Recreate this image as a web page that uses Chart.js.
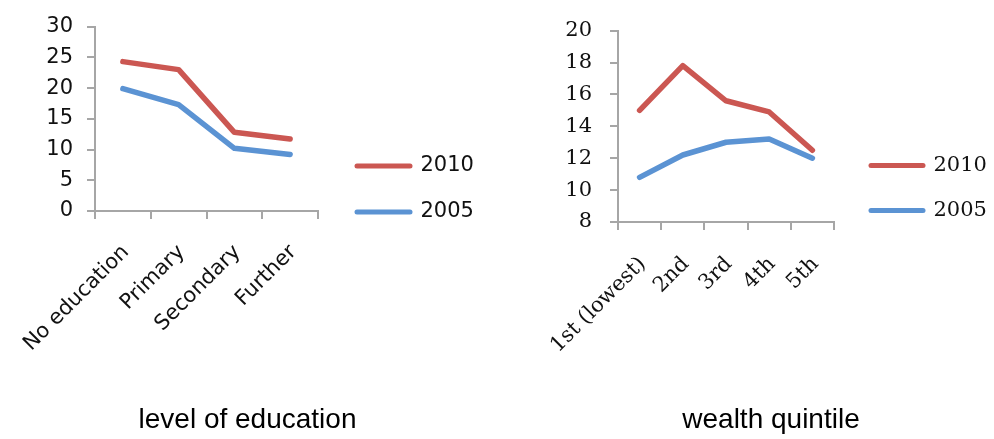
<!DOCTYPE html>
<html><head><meta charset="utf-8">
<script src="https://cdn.jsdelivr.net/npm/chart.js@4.4.0/dist/chart.umd.min.js"></script>
<style>
html,body{margin:0;padding:0;background:#fff;overflow:hidden;width:994px;height:439px;}
canvas{position:absolute;top:0;}
#c1{left:0;} #c2{left:540px;}
</style></head><body>
<canvas id="c1" width="495" height="439" style="width:495px;height:439px"></canvas>
<canvas id="c2" width="462" height="439" style="width:462px;height:439px"></canvas>
<script>
// ---- data ----
const eduLabels = ['No education', 'Primary', 'Secondary', 'Further'];
const edu2010 = [24.3, 23.0, 12.8, 11.7];
const edu2005 = [19.9, 17.3, 10.2, 9.2];
const eduTicks = [0, 5, 10, 15, 20, 25, 30];

const wealthLabels = ['1st (lowest)', '2nd', '3rd', '4th', '5th'];
const wealth2010 = [15.0, 17.8, 15.6, 14.9, 12.5];
const wealth2005 = [10.8, 12.2, 13.0, 13.2, 12.0];
const wealthTicks = [8, 10, 12, 14, 16, 18, 20];

const seriesNames = ['2010', '2005'];
const panelTitles = ['level of education', 'wealth quintile'];

// ---- styles ----
const RED = '#cb5752';
const BLUE = '#5b93d3';
const AXIS = '#a6a6a6';
const TEXT = '#111111';

function placer(left, top) {
  return {
    id: 'placer',
    afterLayout(chart) {
      const lg = chart.legend;
      if (lg) {
        const w = lg.width;
        lg.left = left; lg.right = left + w;
        lg.top = top; lg.bottom = top + 200; lg.height = 200;
      }
      const tb = chart.titleBlock;
      if (tb) { tb.left = 0; tb.right = chart.width; tb.width = chart.width; }
    }
  };
}

function makeChart(id, o) {
  const font = { family: o.family, size: o.size };
  return new Chart(document.getElementById(id), {
    type: 'line',
    data: {
      labels: o.labels,
      datasets: [
        { label: seriesNames[0], data: o.s1, borderColor: RED, backgroundColor: RED },
        { label: seriesNames[1], data: o.s2, borderColor: BLUE, backgroundColor: BLUE }
      ]
    },
    options: {
      responsive: false,
      animation: false,
      devicePixelRatio: 1,
      layout: { padding: { left: 0, right: o.padRight, top: 17, bottom: 2 } },
      elements: {
        line: { borderWidth: 5.5, tension: 0, borderCapStyle: 'round', borderJoinStyle: 'round' },
        point: { radius: 0, hoverRadius: 0 }
      },
      scales: {
        x: {
          type: 'category',
          offset: true,
          grid: { display: true, offset: true, drawOnChartArea: false, drawTicks: true, tickLength: 8, color: AXIS, lineWidth: 2 },
          border: { display: true, color: AXIS, width: 2 },
          ticks: { autoSkip: false, minRotation: 45, maxRotation: 45, padding: o.xPad, labelOffset: o.xOff, color: TEXT, font: font },
          afterFit(scale) { scale.height = o.xHeight; scale.paddingLeft = 0; scale.paddingRight = 0; }
        },
        y: {
          min: o.ticks[0], max: o.ticks[o.ticks.length - 1],
          afterBuildTicks(scale) { scale.ticks = o.ticks.map(v => ({ value: v })); },
          grid: { display: true, drawOnChartArea: false, drawTicks: true, tickLength: 8, color: AXIS, lineWidth: 2 },
          border: { display: true, color: AXIS, width: 2 },
          ticks: { padding: o.yPad, color: TEXT, font: font },
          afterFit(scale) { scale.width = o.yWidth; }
        }
      },
      plugins: {
        legend: {
          display: true,
          position: 'chartArea',
          align: 'start',
          labels: {
            usePointStyle: true,
            pointStyleWidth: o.legLine,
            padding: o.legPad,
            color: TEXT,
            font: font,
            generateLabels(chart) {
              return chart.data.datasets.map((ds, i) => ({
                text: ds.label, fillStyle: ds.borderColor, strokeStyle: ds.borderColor,
                lineWidth: 5, lineCap: 'round', pointStyle: 'line', hidden: false,
                datasetIndex: i, fontColor: TEXT
              }));
            }
          }
        },
        title: {
          display: true,
          text: o.title,
          position: 'bottom',
          color: '#000',
          font: { family: 'Liberation Sans', size: 28, weight: 'normal' },
          padding: { top: 0, bottom: 0 }
        },
        tooltip: { enabled: false }
      }
    },
    plugins: [placer(o.legLeft, o.legTop)]
  });
}

makeChart('c1', {
  labels: eduLabels, s1: edu2010, s2: edu2005, ticks: eduTicks,
  family: 'DejaVu Sans', size: 21, padRight: 177, yWidth: 95, yPad: 14,
  xHeight: 192.4, xPad: 21, xOff: 3, legLine: 53, legPad: 25, legLeft: 332, legTop: 130.5,
  title: panelTitles[0]
});

makeChart('c2', {
  labels: wealthLabels, s1: wealth2010, s2: wealth2005, ticks: wealthTicks,
  family: 'DejaVu Serif', size: 21, padRight: 168, yWidth: 78, yPad: 18,
  xHeight: 181.4, xPad: 22, xOff: 3, legLine: 52, legPad: 24, legLeft: 307, legTop: 131,
  title: panelTitles[1]
});
</script>
</body></html>
